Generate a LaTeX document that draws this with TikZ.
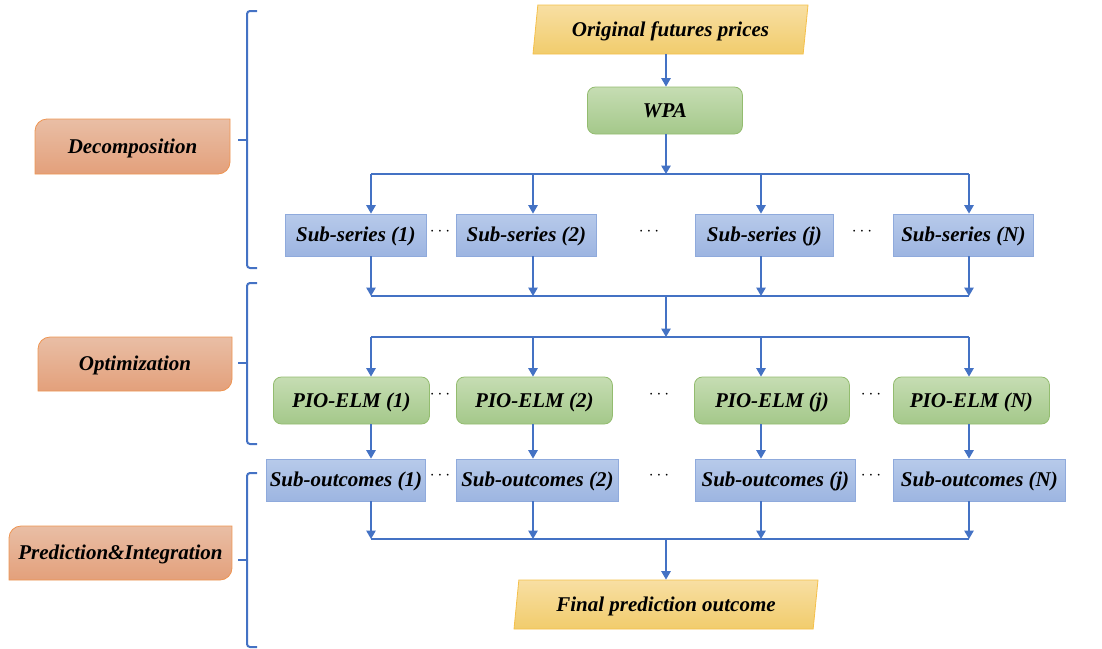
\documentclass[tikz,border=0pt]{standalone}
\usepackage{fontspec}
\setmainfont{Liberation Serif}
\usetikzlibrary{arrows.meta,shapes.geometric}

\definecolor{linkblue}{HTML}{4472C4}
\definecolor{blueborder}{HTML}{8FAADC}
\definecolor{bluetop}{HTML}{B7CAEA}
\definecolor{bluebottom}{HTML}{9DB5E1}
\definecolor{greenborder}{HTML}{93BC6F}
\definecolor{greentop}{HTML}{C6DDB3}
\definecolor{greenbottom}{HTML}{A4C88A}
\definecolor{orangeborder}{HTML}{EE9552}
\definecolor{orangetop}{HTML}{E9BEA5}
\definecolor{orangebottom}{HTML}{E3A07B}
\definecolor{yellowborder}{HTML}{F5C04A}
\definecolor{yellowtop}{HTML}{F8DFA3}
\definecolor{yellowbottom}{HTML}{F1CC6C}

\tikzset{
  boldtext/.style={font=\fontsize{21}{24}\selectfont\bfseries\itshape, text=black,
    text height=13.5pt, text depth=0pt},
  seriesbox/.style={boldtext, draw=blueborder, line width=0.8pt, top color=bluetop,
    bottom color=bluebottom, anchor=west, minimum height=42pt, inner xsep=1pt},
  modelbox/.style={boldtext, draw=greenborder, line width=0.8pt, top color=greentop,
    bottom color=greenbottom, rounded corners=8pt, anchor=west, minimum height=47pt,
    minimum width=156pt, inner xsep=1pt},
  databox/.style={boldtext, draw=yellowborder, line width=0.8pt, top color=yellowtop,
    bottom color=yellowbottom, trapezium, trapezium left angle=76.5,
    trapezium right angle=103.5, trapezium stretches body, minimum height=49pt},
  stageshape/.style={draw=orangeborder, line width=0.8pt, top color=orangetop,
    bottom color=orangebottom},
  link/.style={draw=linkblue, line width=1.3pt},
  flow/.style={link, -{Triangle[length=8.5pt,width=9.5pt]}},
  brace/.style={draw=linkblue, line width=2pt, rounded corners=3pt},
  gap/.style={font=\fontsize{18}{20}\selectfont}
}

\begin{document}
\begin{tikzpicture}[x=1pt,y=-1pt]
    \useasboundingbox (0,0) rectangle (1102,648);

    % Columns of the vertical arrows
    \coordinate (c1) at (371,0);
    \coordinate (c2) at (533,0);
    \coordinate (cj) at (761,0);
    \coordinate (cN) at (969,0);
    \coordinate (cm) at (666,0);

    % Levels of the horizontal lines
    \coordinate (split1) at (0,174);
    \coordinate (join1) at (0,296);
    \coordinate (split2) at (0,337);
    \coordinate (join2) at (0,539);

    % Stage labels on the left
    \path[stageshape] (35,174) -- (35,131) .. controls (35,124.4) and (40.4,119) .. (47,119)
        -- (230,119) -- (230,162) .. controls (230,168.6) and (224.6,174) .. (218,174) -- cycle;
    \node[boldtext] (dec) at (132.5,146.5) {Decomposition};
    \path[stageshape] (38,391) -- (38,349) .. controls (38,342.4) and (43.4,337) .. (50,337)
        -- (232,337) -- (232,379) .. controls (232,385.6) and (226.6,391) .. (220,391) -- cycle;
    \node[boldtext] (opt) at (135,364) {Optimization};
    \path[stageshape] (9,580) -- (9,538) .. controls (9,531.4) and (14.4,526) .. (21,526)
        -- (232,526) -- (232,568) .. controls (232,574.6) and (226.6,580) .. (220,580) -- cycle;
    \node[boldtext] (pre) at (120.5,553) {Prediction\&Integration};

    % Brackets of the three stages
    \draw[brace] (257,11) -- (247,11) -- (247,268) -- (257,268);
    \draw[brace] (247,140) -- (238,140);
    \draw[brace] (257,283) -- (247,283) -- (247,444) -- (257,444);
    \draw[brace] (247,363) -- (238,363);
    \draw[brace] (257,473) -- (247,473) -- (247,647) -- (257,647);
    \draw[brace] (247,560) -- (238,560);

    % Input series and WPA
    \node[databox, minimum width=275pt] (orig) at (670.5,29.5) {Original futures prices};
    \node[modelbox, minimum width=155pt] (wpa) at (587,110.5) {WPA};

    % Sub-series
    \node[seriesbox, minimum width=141pt] (s1) at (285,235) {Sub-series (1)};
    \node[seriesbox, minimum width=140pt] (s2) at (456,235) {Sub-series (2)};
    \node[seriesbox, minimum width=138pt] (sj) at (695,235) {Sub-series (j)};
    \node[seriesbox, minimum width=140pt] (sN) at (893,235) {Sub-series (N)};
    \node[gap] (g11) at (440,232) {$\cdots$};
    \node[gap] (g12) at (649,232) {$\cdots$};
    \node[gap] (g13) at (862,232) {$\cdots$};

    % PIO-ELM models
    \node[modelbox] (p1) at (273,400.5) {PIO-ELM (1)};
    \node[modelbox] (p2) at (456,400.5) {PIO-ELM (2)};
    \node[modelbox, minimum width=155pt] (pj) at (694,400.5) {PIO-ELM (j)};
    \node[modelbox] (pN) at (893,400.5) {PIO-ELM (N)};
    \node[gap] (g21) at (440,395) {$\cdots$};
    \node[gap] (g22) at (659,395) {$\cdots$};
    \node[gap] (g23) at (871,395) {$\cdots$};

    % Sub-outcomes
    \node[seriesbox, minimum width=159pt] (o1) at (266,480) {Sub-outcomes (1)};
    \node[seriesbox, minimum width=162pt] (o2) at (456,480) {Sub-outcomes (2)};
    \node[seriesbox, minimum width=160pt] (oj) at (695,480) {Sub-outcomes (j)};
    \node[seriesbox, minimum width=172pt] (oN) at (893,480) {Sub-outcomes (N)};
    \node[gap] (g31) at (440,476) {$\cdots$};
    \node[gap] (g32) at (659,476) {$\cdots$};
    \node[gap] (g33) at (871,476) {$\cdots$};

    % Final outcome
    \node[databox, minimum width=304pt] (final) at (666,604.5) {Final prediction outcome};

    % Decomposition arrows
    \draw[flow] (cm |- orig.south) -- (cm |- wpa.north);
    \draw[flow] (cm |- wpa.south) -- (cm |- split1);
    \draw[link] (c1 |- split1) -- (cN |- split1);
    \draw[flow] (c1 |- split1) -- (c1 |- s1.north);
    \draw[flow] (c2 |- split1) -- (c2 |- s2.north);
    \draw[flow] (cj |- split1) -- (cj |- sj.north);
    \draw[flow] (cN |- split1) -- (cN |- sN.north);
    \draw[flow] (c1 |- s1.south) -- (c1 |- join1);
    \draw[flow] (c2 |- s2.south) -- (c2 |- join1);
    \draw[flow] (cj |- sj.south) -- (cj |- join1);
    \draw[flow] (cN |- sN.south) -- (cN |- join1);
    \draw[link] (c1 |- join1) -- (cN |- join1);

    % Optimization arrows
    \draw[flow] (cm |- join1) -- (cm |- split2);
    \draw[link] (c1 |- split2) -- (cN |- split2);
    \draw[flow] (c1 |- split2) -- (c1 |- p1.north);
    \draw[flow] (c2 |- split2) -- (c2 |- p2.north);
    \draw[flow] (cj |- split2) -- (cj |- pj.north);
    \draw[flow] (cN |- split2) -- (cN |- pN.north);

    % Prediction and integration arrows
    \draw[flow] (c1 |- p1.south) -- (c1 |- o1.north);
    \draw[flow] (c2 |- p2.south) -- (c2 |- o2.north);
    \draw[flow] (cj |- pj.south) -- (cj |- oj.north);
    \draw[flow] (cN |- pN.south) -- (cN |- oN.north);
    \draw[flow] (c1 |- o1.south) -- (c1 |- join2);
    \draw[flow] (c2 |- o2.south) -- (c2 |- join2);
    \draw[flow] (cj |- oj.south) -- (cj |- join2);
    \draw[flow] (cN |- oN.south) -- (cN |- join2);
    \draw[link] (c1 |- join2) -- (cN |- join2);
    \draw[flow] (cm |- join2) -- (cm |- final.north);

\end{tikzpicture}
\end{document}
